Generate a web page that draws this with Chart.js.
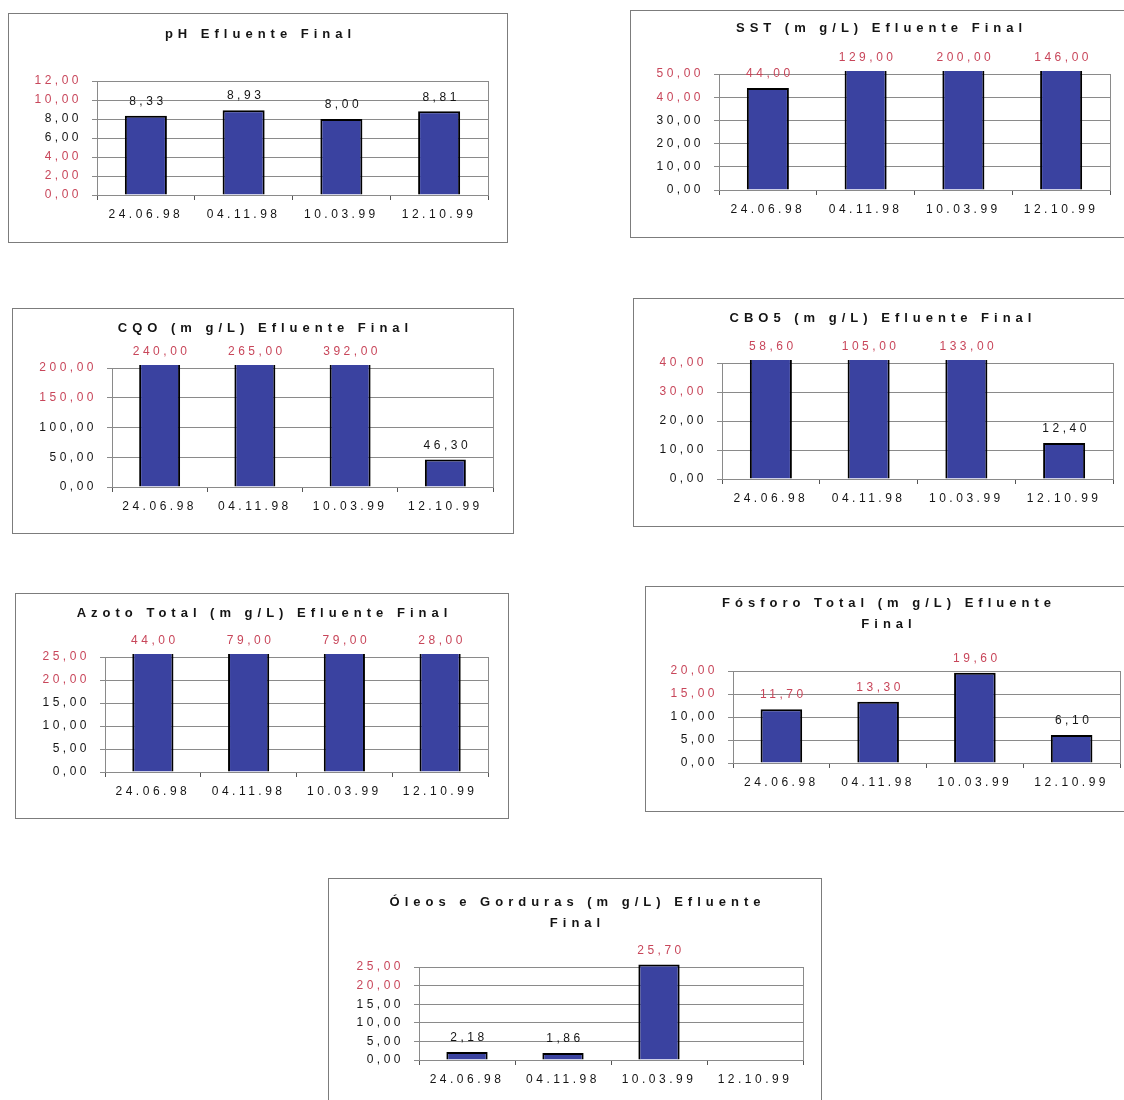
<!DOCTYPE html>
<html>
<head>
<meta charset="utf-8">
<script src="https://cdn.jsdelivr.net/npm/chart.js@4.4.1/dist/chart.umd.min.js"></script>
<style>
  html, body { margin: 0; background: #fff; }
  body { position: relative; width: 1124px; height: 1100px; overflow: hidden; }
  .panel { position: absolute; border: 1px solid #7c7c7c; background: #fff; }
  .panel canvas { display: block; }
</style>
</head>
<body>
<script>
// sampling dates shared by every panel
const dates = ['24.06.98', '04.11.98', '10.03.99', '12.10.99'];

// measured values per parameter
const phValues = [8.33, 8.93, 8.00, 8.81];
const sstValues = [44.00, 129.00, 200.00, 146.00];
const cqoValues = [240.00, 265.00, 392.00, 46.30];
const cbo5Values = [58.60, 105.00, 133.00, 12.40];
const azotoValues = [44.00, 79.00, 79.00, 28.00];
const fosforoValues = [11.70, 13.30, 19.60, 6.10];
const oleosValues = [2.18, 1.86, 25.70, null];

// y axis ranges: [max, step]
const phAxis = [12, 2];
const sstAxis = [50, 10];
const cqoAxis = [200, 50];
const cbo5Axis = [40, 10];
const azotoAxis = [25, 5];
const fosforoAxis = [20, 5];
const oleosAxis = [25, 5];

const RED = '#c8465a';
const DARK = '#141414';
const BAR = '#3a42a0';
const FONT = "'Liberation Sans', Arial, sans-serif";
const Y_W = 82;   // fixed width of the value axis
const X_H = 30;   // fixed height of the date axis

// panel frames and plot rectangles, page coordinates
const panels = [
  { title: ['pH Efluente Final'], values: phValues, axis: phAxis,
    redTicks: [12, 10, 4, 2, 0], labelColors: [DARK, DARK, DARK, DARK],
    box: [8, 13, 500, 230], plot: [97, 81, 488, 195], titleY: 34 },
  { title: ['SST (m g/L) Efluente Final'], values: sstValues, axis: sstAxis,
    redTicks: [50, 40], labelColors: [RED, RED, RED, RED],
    box: [630, 10, 498, 228], plot: [719, 74, 1110, 190], titleY: 28 },
  { title: ['CQO (m g/L) Efluente Final'], values: cqoValues, axis: cqoAxis,
    redTicks: [200, 150], labelColors: [RED, RED, RED, DARK],
    box: [12, 308, 502, 226], plot: [112, 368, 493, 487], titleY: 328 },
  { title: ['CBO5 (m g/L) Efluente Final'], values: cbo5Values, axis: cbo5Axis,
    redTicks: [40, 30], labelColors: [RED, RED, RED, DARK],
    box: [633, 298, 495, 229], plot: [722, 363, 1113, 479], titleY: 318 },
  { title: ['Azoto Total (m g/L) Efluente Final'], values: azotoValues, axis: azotoAxis,
    redTicks: [25, 20], labelColors: [RED, RED, RED, RED],
    box: [15, 593, 494, 226], plot: [105, 657, 488, 772], titleY: 613 },
  { title: ['Fósforo Total (m g/L) Efluente', 'Final'], values: fosforoValues, axis: fosforoAxis,
    redTicks: [20, 15], labelColors: [RED, RED, RED, DARK],
    box: [645, 586, 483, 226], plot: [733, 671, 1120, 763], titleY: 603 },
  { title: ['Óleos e Gorduras (m g/L) Efluente', 'Final'], values: oleosValues, axis: oleosAxis,
    redTicks: [25, 20], labelColors: [DARK, DARK, RED, DARK],
    box: [328, 878, 494, 240], plot: [419, 967, 803, 1060], titleY: 902 }
];

const fmt = v => v.toFixed(2).replace('.', ',');

// scanned-document look: wide tracking on every label
const spacing = {
  id: 'spacing',
  beforeUpdate(chart) { chart.ctx.letterSpacing = '3.5px'; },
  beforeDraw(chart) { chart.ctx.letterSpacing = '3.5px'; }
};

// grey frame round the plot area
const plotFrame = {
  id: 'plotFrame',
  beforeDatasetsDraw(chart) {
    const { ctx, chartArea: a } = chart;
    ctx.save();
    ctx.strokeStyle = '#8a8a8a';
    ctx.lineWidth = 1;
    ctx.strokeRect(a.left + 0.5, a.top + 0.5, a.right - a.left, a.bottom - a.top);
    ctx.restore();
  }
};

// value above each bar, kept above the plot top when the bar runs past the axis
const valueLabels = {
  id: 'valueLabels',
  afterDatasetsDraw(chart, args, opts) {
    const { ctx, chartArea: a } = chart;
    const meta = chart.getDatasetMeta(0);
    const data = chart.data.datasets[0].data;
    ctx.save();
    ctx.letterSpacing = '3.5px';
    ctx.font = `12px ${FONT}`;
    ctx.textAlign = 'center';
    ctx.textBaseline = 'middle';
    meta.data.forEach((bar, i) => {
      if (data[i] == null) return;
      const top = Math.max(bar.y, a.top - 2);
      ctx.fillStyle = opts.colors[i];
      ctx.fillText(fmt(data[i]), bar.x + 2, top - 14);
    });
    ctx.restore();
  }
};

// bold, widely tracked heading
const heading = {
  id: 'heading',
  afterDraw(chart, args, opts) {
    const ctx = chart.ctx;
    ctx.save();
    ctx.letterSpacing = '5px';
    ctx.font = `bold 13px ${FONT}`;
    ctx.fillStyle = DARK;
    ctx.textAlign = 'center';
    ctx.textBaseline = 'middle';
    opts.lines.forEach((line, i) => {
      ctx.fillText(line, chart.width / 2 + 2.5, opts.y + i * 21);
    });
    ctx.restore();
  }
};

panels.forEach(p => {
  const [bx, by, bw, bh] = p.box;
  const [pl, pt, pr, pb] = p.plot;
  const div = document.createElement('div');
  div.className = 'panel';
  Object.assign(div.style, { left: bx + 'px', top: by + 'px', width: (bw - 2) + 'px', height: (bh - 2) + 'px' });
  const canvas = document.createElement('canvas');
  canvas.width = bw - 2;
  canvas.height = bh - 2;
  div.appendChild(canvas);
  document.body.appendChild(div);

  const ox = bx + 1, oy = by + 1;
  const [max, step] = p.axis;

  new Chart(canvas, {
    type: 'bar',
    data: {
      labels: dates,
      datasets: [{
        data: p.values,
        backgroundColor: BAR,
        borderColor: '#000',
        borderWidth: 2,
        borderSkipped: 'start',
        barPercentage: 0.43,
        categoryPercentage: 1,
        clip: { left: 5, top: 3, right: 5, bottom: 0 }
      }]
    },
    options: {
      responsive: false,
      animation: false,
      events: [],
      layout: {
        padding: {
          left: pl - ox - Y_W,
          top: pt - oy,
          right: (ox + bw - 2) - pr,
          bottom: (oy + bh - 2) - pb - X_H
        }
      },
      plugins: {
        legend: { display: false },
        tooltip: { enabled: false },
        valueLabels: { colors: p.labelColors },
        heading: { lines: p.title, y: p.titleY - oy }
      },
      scales: {
        x: {
          afterFit: s => { s.height = X_H; },
          grid: { drawOnChartArea: false, tickLength: 5, color: '#555', offset: true },
          border: { color: '#555', width: 1 },
          ticks: {
            color: DARK, padding: 7, maxRotation: 0, autoSkip: false,
            font: { family: FONT, size: 12 }
          }
        },
        y: {
          min: 0, max: max,
          afterFit: s => { s.width = Y_W; },
          grid: { color: '#8a8a8a', tickLength: 5, lineWidth: 1 },
          border: { color: '#555', width: 1 },
          ticks: {
            stepSize: step, padding: 10,
            color: c => p.redTicks.includes(c.tick.value) ? RED : DARK,
            font: { family: FONT, size: 12 },
            callback: v => fmt(v)
          }
        }
      }
    },
    plugins: [spacing, plotFrame, valueLabels, heading]
  });
});
</script>
</body>
</html>
